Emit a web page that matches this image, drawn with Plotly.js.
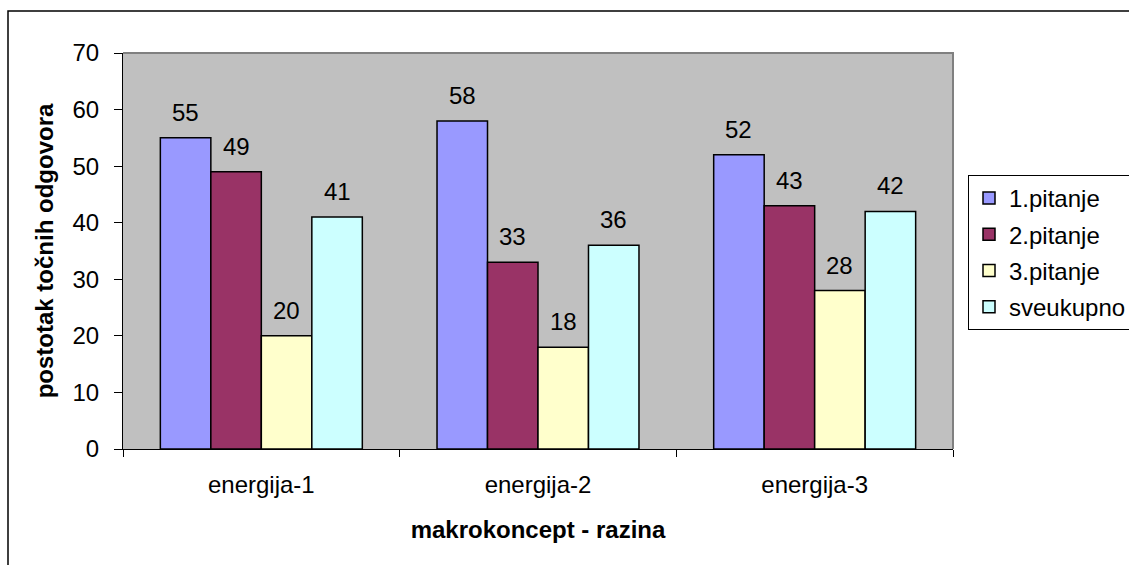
<!DOCTYPE html>
<html><head><meta charset="utf-8">
<script src="https://cdn.plot.ly/plotly-3.0.1.min.js"></script>
<style>html,body{margin:0;padding:0;background:#fff;overflow:hidden}#chart{width:1129px;height:565px}</style>
</head><body><div id="chart"></div>
<script>
const categories = ['energija-1', 'energija-2', 'energija-3'];
const seriesNames = ['1.pitanje', '2.pitanje', '3.pitanje', 'sveukupno'];
const pitanje1 = [55, 58, 52];
const pitanje2 = [49, 33, 43];
const pitanje3 = [20, 18, 28];
const sveukupno = [41, 36, 42];
const seriesValues = [pitanje1, pitanje2, pitanje3, sveukupno];
const yTicks = [0, 10, 20, 30, 40, 50, 60, 70];
const xTitle = 'makrokoncept - razina';
const yTitle = 'postotak točnih odgovora';

const colors = ['#9999FF', '#993366', '#FFFFCC', '#CCFFFF'];
const FONT = 'Liberation Sans, Arial, sans-serif';
const bargap = 0.27;
const barW = (1 - bargap) / seriesNames.length;

const traces = seriesNames.map((name, s) => ({
  type: 'bar',
  name: name,
  x: categories,
  y: seriesValues[s],
  legendgroup: 'g' + s,
  marker: {color: colors[s], line: {color: '#000', width: 1.5}},
  hoverinfo: 'x+y+name'
}));

const annotations = [];
seriesValues.forEach((vals, s) => {
  vals.forEach((v, c) => {
    annotations.push({
      x: c + (s - (seriesNames.length - 1) / 2) * barW,
      y: v,
      xref: 'x', yref: 'y',
      text: String(v),
      showarrow: false,
      yanchor: 'bottom',
      yshift: 10,
      font: {family: FONT, size: 24, color: '#000'}
    });
  });
});

const ml = 123, mr = 176, mt = 53, mb = 116, W = 1129, H = 565;
const pw = W - ml - mr, ph = H - mt - mb;

const layout = {
  width: W, height: H,
  margin: {l: ml, r: mr, t: mt, b: mb, pad: 0, autoexpand: false},
  paper_bgcolor: '#fff',
  plot_bgcolor: '#C0C0C0',
  font: {family: FONT, size: 24, color: '#000'},
  barmode: 'group',
  bargap: bargap,
  bargroupgap: 0,
  showlegend: true,
  legend: {
    x: (968 - ml) / pw, y: (H - mb - 175) / ph,
    xanchor: 'left', yanchor: 'top',
    bordercolor: '#000', borderwidth: 1, bgcolor: '#fff',
    font: {family: FONT, size: 24, color: '#000'},
    tracegroupgap: 2,
    itemwidth: 30
  },
  xaxis: {
    type: 'category',
    tickson: 'boundaries',
    ticks: 'outside', ticklen: 7, tickcolor: '#000', tickwidth: 1,
    showline: true, linecolor: '#000', linewidth: 1,
    showgrid: false, zeroline: false,
    ticklabelstandoff: 14,
    title: {text: xTitle, font: {family: FONT, size: 24, color: '#000', weight: 'bold'}, standoff: 24}
  },
  yaxis: {
    range: [0, 70],
    tickvals: yTicks,
    ticktext: yTicks.map(String),
    ticks: 'outside', ticklen: 8, tickcolor: '#000', tickwidth: 1,
    showline: true, linecolor: '#000', linewidth: 1,
    showgrid: false, zeroline: false,
    ticklabelstandoff: 10,
    title: {text: yTitle, font: {family: FONT, size: 24, color: '#000', weight: 'bold'}, standoff: 12}
  },
  annotations: annotations,
  shapes: [
    {type: 'path', xref: 'paper', yref: 'paper', path: 'M 0 1 L 1 1 L 1 0',
     line: {color: '#808080', width: 2}, layer: 'above'},
    {type: 'rect', xref: 'paper', yref: 'paper',
     x0: (8 - ml) / pw, x1: 1.3, y0: -0.5, y1: (H - mb - 11) / ph,
     line: {color: '#000', width: 1.5}, fillcolor: 'rgba(0,0,0,0)', layer: 'below'}
  ]
};

Plotly.newPlot('chart', traces, layout, {displayModeBar: false, staticPlot: true});
</script>
</body></html>
